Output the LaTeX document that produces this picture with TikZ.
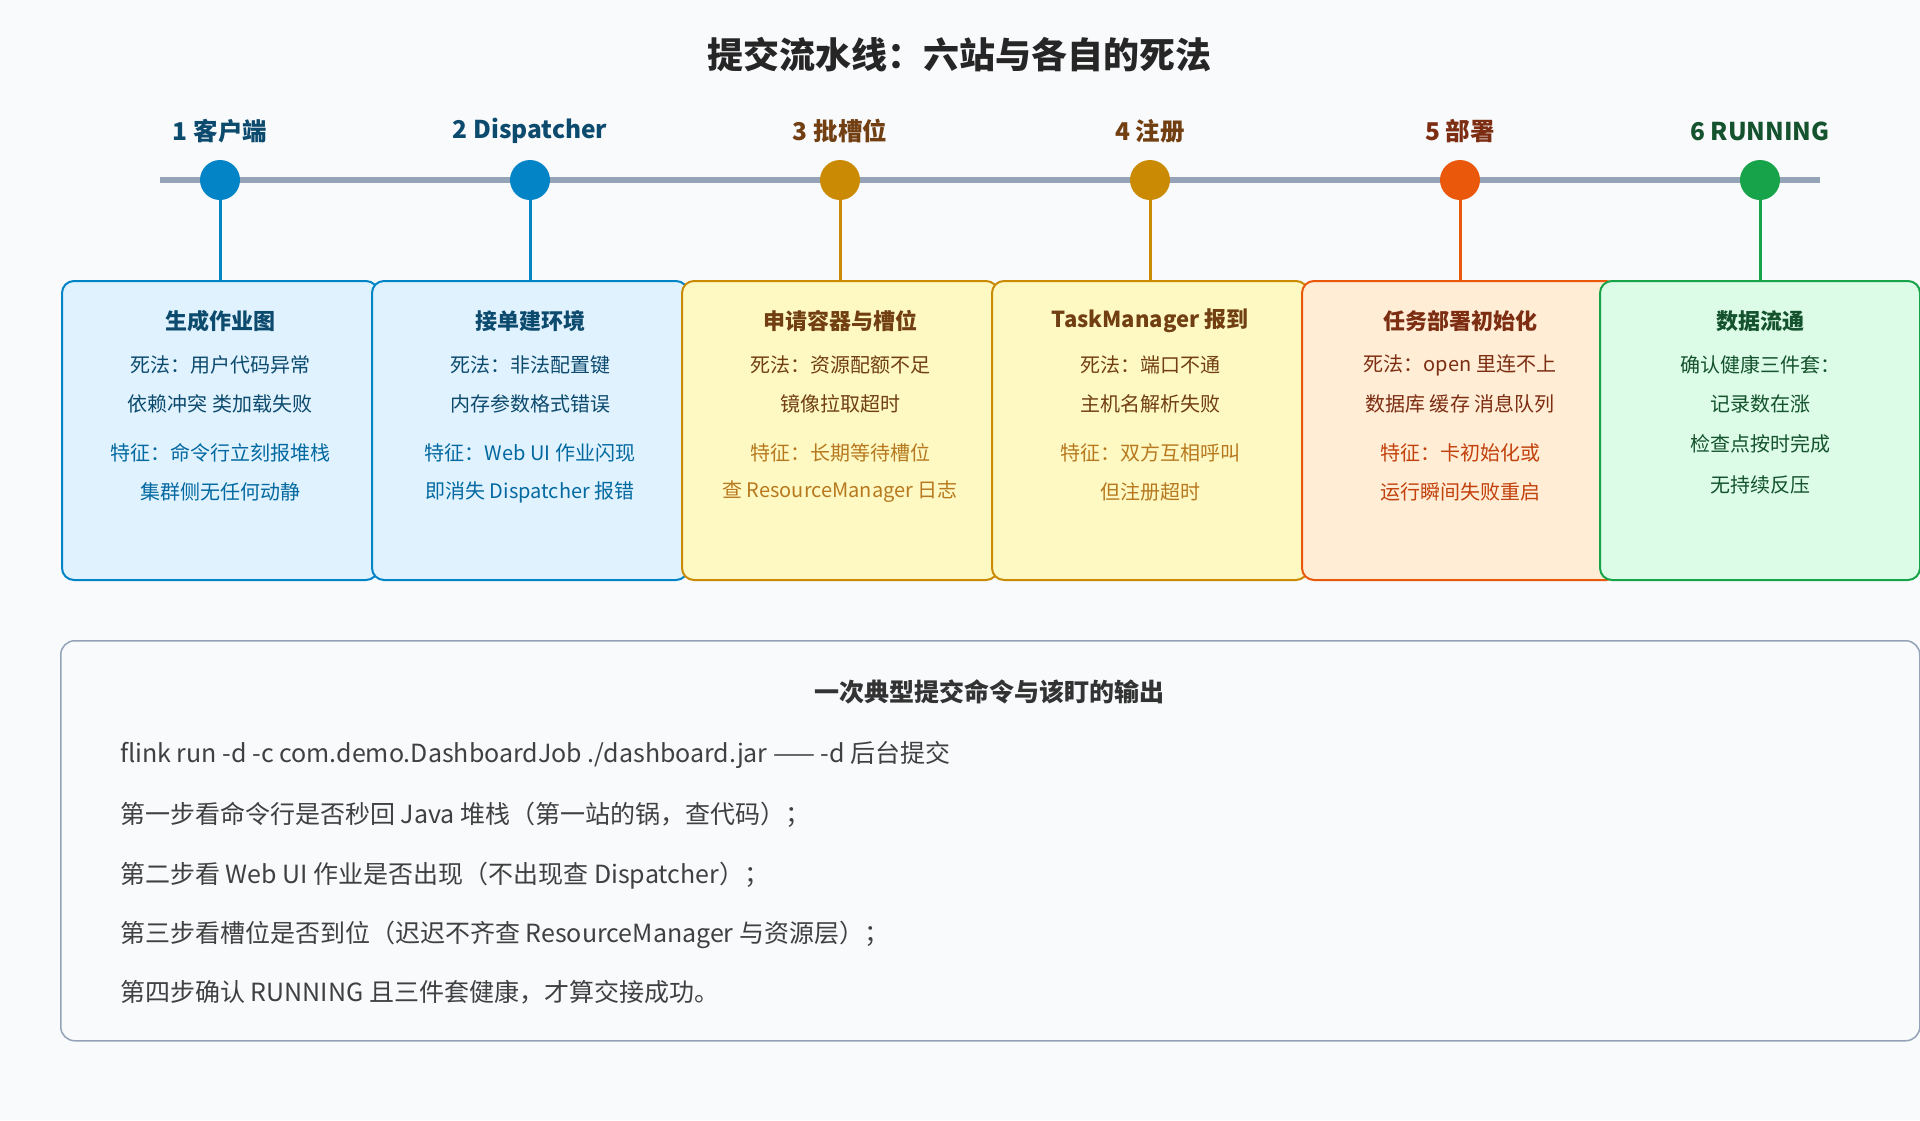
\documentclass[tikz,border=0pt]{standalone}
\usepackage{fontspec}
\setmainfont{Noto Sans CJK SC}
\begin{document}
\begin{tikzpicture}[x=1pt,y=-1pt,
  every node/.style={inner sep=0pt},
  box/.style={draw,line width=2pt,rounded corners=12pt},
  lab/.style={font=\fontsize{24.5}{28}\selectfont\bfseries},
  btitle/.style={font=\fontsize{22}{25}\selectfont\bfseries},
  btext/.style={font=\fontsize{20}{23}\selectfont},
  dot/.style={circle,minimum size=40pt},
  stem/.style={line width=3pt}]
\definecolor{bg}{HTML}{F8FAFC}
\definecolor{bA}{HTML}{0284C7}\definecolor{fA}{HTML}{E0F2FE}\definecolor{tA}{HTML}{0C4A6E}\definecolor{sA}{HTML}{0369A1}
\definecolor{bB}{HTML}{CA8A04}\definecolor{fB}{HTML}{FEF9C3}\definecolor{tB}{HTML}{713F12}\definecolor{sB}{HTML}{B7791F}
\definecolor{bC}{HTML}{EA580C}\definecolor{fC}{HTML}{FFEDD5}\definecolor{tC}{HTML}{7C2D12}\definecolor{sC}{HTML}{C2410C}
\definecolor{bD}{HTML}{16A34A}\definecolor{fD}{HTML}{DCFCE7}\definecolor{tD}{HTML}{14532D}
\definecolor{line}{HTML}{94A3B8}
\fill[bg] (0,0) rectangle (1920,1120);
\useasboundingbox (0,0) rectangle (1920,1120);
\node[font=\fontsize{36}{40}\selectfont\bfseries,text=black!85] (title) at (959,55) {提交流水线：六站与各自的死法};
\coordinate (tl0) at (160,180); \coordinate (tl1) at (1820,180);
\draw[line,line width=6pt] (tl0) -- (tl1);
\newcommand{\station}[9]{%
  \node[box,draw=#5,fill=#6,minimum width=#4pt-#3pt,minimum height=299pt,anchor=north] (box#1) at (#2,280) {};
  \node[dot,fill=#5] (dot#1) at (#2,180) {};
  \draw[#5,stem] (dot#1.south) -- (box#1.north);
  \node[lab,text=#7] (lab#1) at (#2,131) {#8};
  \node[btitle,text=#7] (tt#1) at (#2,321) {#9};
}
\station{1}{220}{60}{376}{bA}{fA}{tA}{1 客户端}{生成作业图}
\station{2}{530}{370}{686}{bA}{fA}{tA}{2 Dispatcher}{接单建环境}
\station{3}{840}{680}{996}{bB}{fB}{tB}{3 批槽位}{申请容器与槽位}
\station{4}{1150}{989}{1305}{bB}{fB}{tB}{4 注册}{TaskManager 报到}
\station{5}{1460}{1299}{1615}{bC}{fC}{tC}{5 部署}{任务部署初始化}
\station{6}{1760}{1599}{1919}{bD}{fD}{tD}{6 RUNNING}{数据流通}
\foreach \x/\a/\b/\c/\d/\ta/\tb in {
 220/死法：用户代码异常/依赖冲突 类加载失败/特征：命令行立刻报堆栈/集群侧无任何动静/tA/sA,
 530/死法：非法配置键/内存参数格式错误/特征：Web UI 作业闪现/即消失 Dispatcher 报错/tA/sA,
 840/死法：资源配额不足/镜像拉取超时/特征：长期等待槽位/查 ResourceManager 日志/tB/sB,
 1150/死法：端口不通/主机名解析失败/特征：双方互相呼叫/但注册超时/tB/sB,
 1460/死法：open 里连不上/数据库 缓存 消息队列/特征：卡初始化或/运行瞬间失败重启/tC/sC}{
  \node[btext,text=\ta] (l1-\x) at (\x,365) {\a};
  \node[btext,text=\ta] (l2-\x) at (\x,404) {\b};
  \node[btext,text=\tb] (l3-\x) at (\x,453) {\c};
  \node[btext,text=\tb] (l4-\x) at (\x,492) {\d};
}
\node[btext,text=tD] (g1) at (1760,365) {确认健康三件套：};
\node[btext,text=tD] (g2) at (1760,404) {记录数在涨};
\node[btext,text=tD] (g3) at (1760,444) {检查点按时完成};
\node[btext,text=tD] (g4) at (1760,485) {无持续反压};
\node[draw=line,line width=1.5pt,fill=bg,rounded corners=14pt,minimum width=1859pt,minimum height=400pt,anchor=north west] (cmd) at (60,640) {};
\node[font=\fontsize{25}{28}\selectfont\bfseries,text=black!80] (ct) at (989,692) {一次典型提交命令与该盯的输出};
\begin{scope}[every node/.style={anchor=west,inner sep=0pt,font=\fontsize{25}{28}\selectfont,text=black!75}]
\node (c1) at (120,755) {flink run -d -c com.demo.DashboardJob ./dashboard.jar —— -d 后台提交};
\node (c2) at (120,815) {第一步看命令行是否秒回 Java 堆栈（第一站的锅，查代码）；};
\node (c3) at (120,876) {第二步看 Web UI 作业是否出现（不出现查 Dispatcher）；};
\node (c4) at (120,935) {第三步看槽位是否到位（迟迟不齐查 ResourceManager 与资源层）；};
\node (c5) at (120,992) {第四步确认 RUNNING 且三件套健康，才算交接成功。};
\end{scope}
\end{tikzpicture}
\end{document}
